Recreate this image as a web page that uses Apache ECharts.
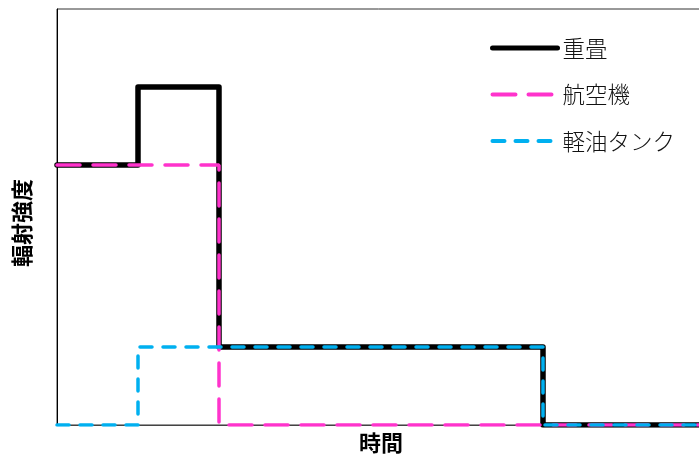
<!DOCTYPE html>
<html><head><meta charset="utf-8">
<script src="https://cdn.jsdelivr.net/npm/echarts@6/dist/echarts.min.js"></script>
<style>html,body{margin:0;padding:0;background:#fff}#c{width:699px;height:462px}</style>
</head><body><div id="c"></div>
<script>
const seriesNames = ['重畳', '航空機', '軽油タンク'];
const timePoints = [0, 1, 2, 6, 8];
const overlap = [1, 1.3, 0.3, 0, 0];
const aircraft = [1, 1, 0, 0, 0];
const tank = [0, 0.3, 0.3, 0, 0];
const xAxisName = '時間';
const yAxisName = '輻射強度';

const pairs = v => timePoints.map((t, i) => [t, v[i]]);
const font = '"Noto Sans CJK JP", "Noto Sans", sans-serif';
const chart = echarts.init(document.getElementById('c'), null, {renderer: 'canvas'});
chart.setOption({
  animation: false,
  grid: {left: 57, top: 9, width: 648, height: 416, show: true, borderColor: '#333', borderWidth: 1,
         containLabel: false, outerBoundsMode: 'none'},
  legend: {
    left: 490, top: 36, padding: 0, orient: 'vertical', itemWidth: 65, itemHeight: 24, itemGap: 22.5,
    itemStyle: {opacity: 0},
    textStyle: {fontFamily: font, fontSize: 22.5, fontWeight: 300, color: '#111', lineHeight: 24},
    data: [
      {name: seriesNames[0], lineStyle: {width: 5}},
      {name: seriesNames[1], lineStyle: {width: 4}},
      {name: seriesNames[2], lineStyle: {width: 4}}
    ]
  },
  xAxis: {
    type: 'value', min: 0, max: 8,
    name: xAxisName, nameLocation: 'middle', nameGap: 7,
    nameTextStyle: {fontFamily: font, fontSize: 22, fontWeight: 'bold', color: '#000'},
    axisLine: {show: true, lineStyle: {color: '#444', width: 1}},
    axisTick: {show: false}, axisLabel: {show: false}, splitLine: {show: false}
  },
  yAxis: {
    type: 'value', min: 0, max: 1.6,
    name: yAxisName, nameLocation: 'middle', nameGap: 24,
    nameTextStyle: {fontFamily: font, fontSize: 22, fontWeight: 'bold', color: '#000', padding: [0, 12, 0, 0]},
    axisLine: {show: true, lineStyle: {color: '#000', width: 1}},
    axisTick: {show: false}, axisLabel: {show: false}, splitLine: {show: false}
  },
  series: [
    {name: seriesNames[0], type: 'line', step: 'end', symbol: 'none', showSymbol: false, data: pairs(overlap),
     lineStyle: {color: '#000', width: 5.5, cap: 'round', join: 'round'}, itemStyle: {color: '#000'}},
    {name: seriesNames[1], type: 'line', step: 'end', symbol: 'none', showSymbol: false, data: pairs(aircraft),
     lineStyle: {color: '#ff33cc', width: 3.5, type: [23, 13], cap: 'round'}, itemStyle: {color: '#ff33cc'}},
    {name: seriesNames[2], type: 'line', step: 'end', symbol: 'none', showSymbol: false, data: pairs(tank),
     lineStyle: {color: '#00b0f0', width: 3.5, type: [12, 11], cap: 'round'}, itemStyle: {color: '#00b0f0'}}
  ]
});
</script></body></html>
